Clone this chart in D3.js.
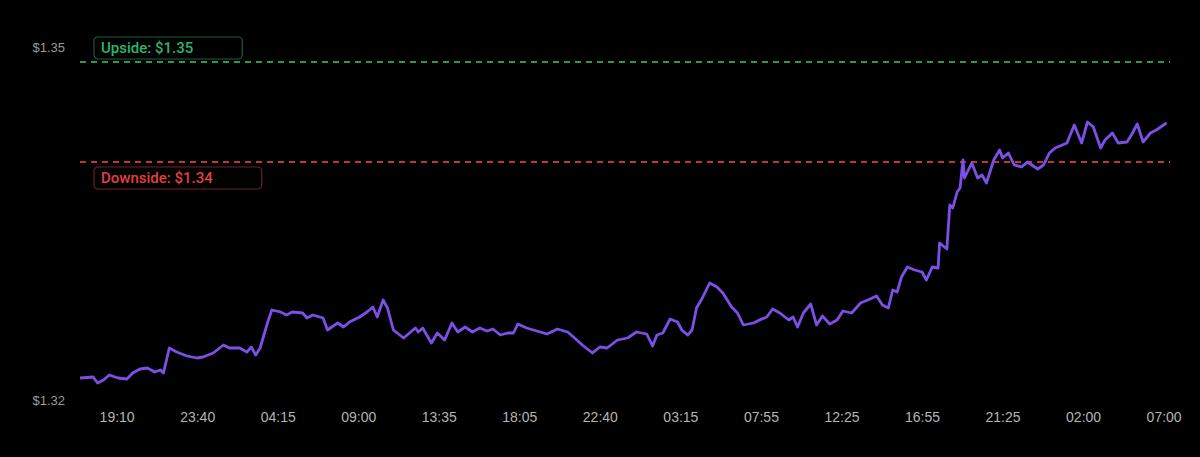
<!DOCTYPE html>
<html>
<head>
<meta charset="utf-8">
<script src="https://cdn.jsdelivr.net/npm/d3@7"></script>
<style>
  body { margin: 0; background: #000; }
  svg { display: block; font-family: "Open Sans", Roboto, sans-serif; }
</style>
</head>
<body>
<svg id="canvas" width="1200" height="457"></svg>
<script>
// 5-minute bar index since the start of the window, and price at that bar
let bars = [0, 9, 12, 16, 20, 26, 32, 36, 41, 46, 51, 55, 57, 61, 66, 73, 80, 84, 91, 98,
  102, 109, 114, 117, 120, 123, 128, 131, 137, 141, 145, 152, 155, 159, 166, 169, 176, 180, 184, 191,
  196, 200, 203, 207, 210, 214, 221, 225, 229, 231, 234, 240, 244, 249, 254, 258, 263, 268, 273, 278,
  282, 287, 292, 296, 299, 305, 312, 319, 326, 333, 337, 343, 350, 355, 360, 367, 374, 380, 387, 391,
  394, 398, 403, 408, 411, 415, 418, 421, 425, 430, 435, 439, 445, 449, 453, 460, 464, 469, 473, 478,
  484, 487, 490, 494, 499, 503, 507, 512, 517, 521, 527, 533, 538, 544, 548, 552, 555, 558, 561, 565,
  570, 575, 578, 582, 586, 587, 592, 594, 596, 599, 601, 603, 604, 609, 613, 616, 619, 624, 628, 630,
  634, 638, 643, 647, 654, 658, 662, 666, 674, 679, 684, 688, 692, 697, 700, 705, 709, 715, 718, 722,
  726, 731, 735, 742]

let prices = [1.3179, 1.3180, 1.3174, 1.3177, 1.3182, 1.3179, 1.3178, 1.3184, 1.3188, 1.3189, 1.3185, 1.3187, 1.3184, 1.3209, 1.3205, 1.3201, 1.3199, 1.3200, 1.3204, 1.3212,
  1.3209, 1.3209, 1.3205, 1.3210, 1.3202, 1.3209, 1.3234, 1.3247, 1.3245, 1.3242, 1.3245, 1.3244, 1.3239, 1.3242, 1.3239, 1.3227, 1.3234, 1.3230, 1.3235, 1.3240,
  1.3245, 1.3250, 1.3240, 1.3257, 1.3249, 1.3227, 1.3219, 1.3224, 1.3229, 1.3225, 1.3229, 1.3214, 1.3224, 1.3217, 1.3234, 1.3225, 1.3230, 1.3225, 1.3229, 1.3226,
  1.3228, 1.3222, 1.3224, 1.3224, 1.3233, 1.3229, 1.3226, 1.3223, 1.3228, 1.3225, 1.3220, 1.3212, 1.3204, 1.3210, 1.3209, 1.3217, 1.3219, 1.3225, 1.3223, 1.3211,
  1.3222, 1.3224, 1.3238, 1.3235, 1.3227, 1.3222, 1.3227, 1.3249, 1.3259, 1.3274, 1.3270, 1.3264, 1.3250, 1.3244, 1.3232, 1.3234, 1.3237, 1.3240, 1.3248, 1.3244,
  1.3237, 1.3240, 1.3230, 1.3244, 1.3253, 1.3232, 1.3241, 1.3233, 1.3237, 1.3246, 1.3244, 1.3254, 1.3257, 1.3261, 1.3252, 1.3249, 1.3267, 1.3265, 1.3280, 1.3290,
  1.3287, 1.3285, 1.3277, 1.3290, 1.3289, 1.3314, 1.3308, 1.3352, 1.3349, 1.3365, 1.3369, 1.3397, 1.3379, 1.3394, 1.3379, 1.3382, 1.3374, 1.3397, 1.3407, 1.3399,
  1.3404, 1.3392, 1.3390, 1.3395, 1.3388, 1.3392, 1.3404, 1.3409, 1.3414, 1.3432, 1.3414, 1.3435, 1.3430, 1.3409, 1.3417, 1.3424, 1.3414, 1.3415, 1.3422, 1.3433,
  1.3415, 1.3424, 1.3427, 1.3434]

let tickLabels = ['19:10', '23:40', '04:15', '09:00', '13:35', '18:05', '22:40', '03:15', '07:55', '12:25', '16:55', '21:25', '02:00', '07:00']
let tickBars = [25, 80, 135, 190, 245, 300, 355, 410, 465, 520, 575, 630, 685, 740]

let yDomain = [1.3157, 1.3510]
let upside = 1.3495
let downside = 1.3395

let canvas = d3.select('#canvas')

let xScale = d3.scaleLinear().domain([0, 743]).range([80, 1168])
let yScale = d3.scaleLinear().domain(yDomain).range([400, 47])

let data = bars.map((b, i) => ({ bar: b, price: prices[i] }))

// y labels only at the ends of the domain
canvas.append('g')
      .attr('transform', 'translate(68,0)')
      .call(d3.axisLeft(yScale).tickValues(yDomain).tickSize(0).tickFormat(d => '$' + d.toFixed(2)))
      .call(g => g.select('.domain').remove())
      .selectAll('text')
      .attr('fill', '#9a9a9a')
      .style('font-size', '13px')

canvas.append('g')
      .attr('transform', 'translate(0,409)')
      .call(d3.axisBottom(xScale).tickValues(tickBars).tickSize(0).tickFormat((d, i) => tickLabels[i]))
      .call(g => g.select('.domain').remove())
      .selectAll('text')
      .attr('fill', '#b4b4b4')
      .style('font-size', '14px')

// target lines
let targets = [
    { value: upside, text: 'Upside: $1.35', color: '#2fb36c', box: '#1d5c3a', dy: -25 },
    { value: downside, text: 'Downside: $1.34', color: '#e0403f', box: '#6b2222', dy: 5 }
]

targets.forEach(t => {
    let y = yScale(t.value)
    canvas.append('line')
          .attr('x1', 80).attr('x2', 1170)
          .attr('y1', y).attr('y2', y)
          .attr('stroke', t.color)
          .attr('stroke-width', 2)
          .attr('stroke-dasharray', '6 5')
          .attr('opacity', 0.85)
    let label = canvas.append('g').attr('transform', `translate(94,${y + t.dy})`)
    let txt = label.append('text')
          .attr('x', 7).attr('y', 16)
          .attr('fill', t.color)
          .style('font-family', 'Roboto, sans-serif')
          .style('font-size', '15px')
          .style('font-weight', 500)
          .text(t.text)
    let w = txt.node().getComputedTextLength()
    label.insert('rect', 'text')
         .attr('x', 0).attr('y', 0)
         .attr('width', w + 56).attr('height', 22)
         .attr('rx', 4)
         .attr('fill', '#000')
         .attr('stroke', t.box)
         .attr('stroke-width', 1.2)
})

canvas.append('path')
      .datum(data)
      .attr('fill', 'none')
      .attr('stroke', '#7b50e6')
      .attr('stroke-width', 2.8)
      .attr('stroke-linejoin', 'round')
      .attr('d', d3.line().x(d => xScale(d.bar)).y(d => yScale(d.price)))
</script>
</body>
</html>
